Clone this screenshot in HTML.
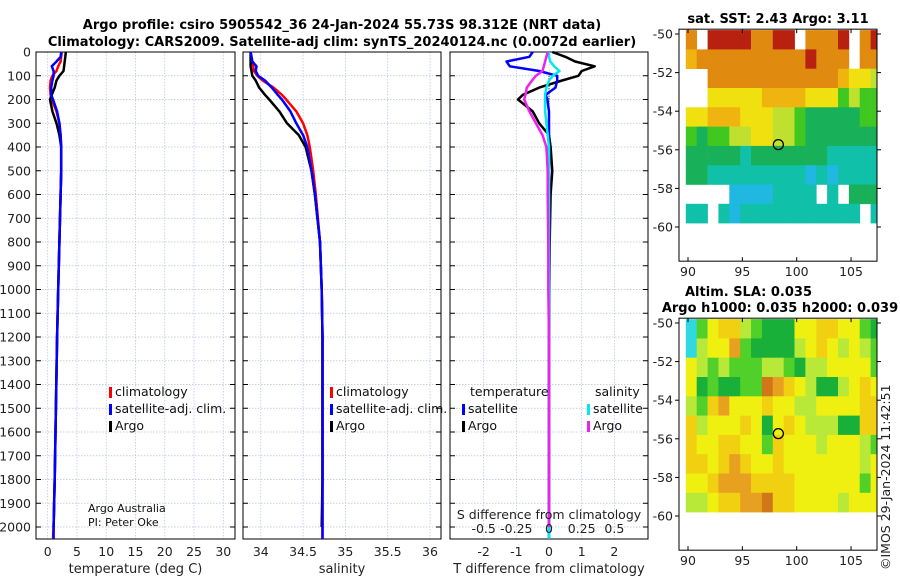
<!DOCTYPE html>
<html><head><meta charset="utf-8">
<style>
html,body{margin:0;padding:0;background:#fff;}
svg{display:block;font-family:"DejaVu Sans","Liberation Sans",sans-serif;}
</style></head>
<body>
<svg id="fig" width="900" height="580" viewBox="0 0 900 580" xmlns="http://www.w3.org/2000/svg">
<text x="342" y="29" text-anchor="middle" font-size="13" font-weight="bold">Argo profile: csiro 5905542_36 24-Jan-2024 55.73S 98.312E (NRT data)</text>
<text x="342" y="46" text-anchor="middle" font-size="13" font-weight="bold">Climatology: CARS2009. Satellite-adj clim: synTS_20240124.nc (0.0072d earlier)</text>
<g id="g"></g>
</svg>
<script>
// ---- data ----
const depths = [0,20,40,60,80,100,120,150,180,200,250,300,350,400,500,600,800,1000,1200,1500,1800,2000,2050];
const tempClim = [2.4,2.3,2.2,1.8,1.5,0.8,0.5,0.4,0.5,0.7,1.5,2.0,2.2,2.3,2.3,2.2,2.0,1.8,1.6,1.4,1.2,1.0,0.9];
const tempSat  = [2.3,2.2,1.5,0.7,1.0,1.0,0.8,0.6,0.6,0.9,1.6,2.0,2.2,2.3,2.3,2.2,2.0,1.8,1.6,1.4,1.2,1.0,1.0];
const tempArgo = [3.1,3.0,2.9,2.8,2.7,2.0,1.5,1.2,0.7,0.4,0.8,1.5,2.0,2.3,2.3,2.2,2.0,1.8,1.6,1.4,1.2,1.0,null];
const salClim = [33.88,33.89,33.9,33.91,33.92,33.96,34.02,34.15,34.25,34.3,34.42,34.5,34.55,34.58,34.62,34.65,34.7,34.72,34.73,34.73,34.73,34.73,34.73];
const salSat  = [33.88,33.89,33.9,33.95,33.94,33.97,34.05,34.13,34.2,34.25,34.35,34.42,34.5,34.55,34.6,34.64,34.7,34.72,34.73,34.73,34.73,34.73,34.73];
const salArgo = [33.88,33.88,33.88,33.88,33.89,33.9,33.94,33.98,34.05,34.1,34.22,34.31,34.45,34.53,34.6,34.64,34.7,34.72,34.73,34.73,34.73,34.72,null];
const tDiffSat  = [-0.5,-0.6,-1.3,-1.2,-0.3,0.25,0.25,0.2,-0.1,-0.05,0,0,0,0,0,0,0,0,0,0,0,0,0];
const tDiffArgo = [0.1,0.5,0.8,1.4,1.0,0.9,0.4,-0.3,-0.8,-0.95,-0.5,-0.3,0,0.05,0.1,0.05,0.02,0.01,0,0,0,0,null];
const sDiffSat  = [0,0,0.01,0.04,0.08,0.03,0.0,-0.02,-0.03,-0.03,-0.03,-0.02,-0.01,0,0,0,0,0,0,0,0,0,0];
const sDiffArgo = [-0.01,-0.02,-0.03,-0.04,-0.05,-0.1,-0.13,-0.17,-0.18,-0.19,-0.15,-0.1,-0.05,-0.02,-0.01,-0.01,-0.005,-0.005,0,0,0,0,null];
const depthTicks = [0,100,200,300,400,500,600,700,800,900,1000,1100,1200,1300,1400,1500,1600,1700,1800,1900,2000];
const tempTicks = [0,5,10,15,20,25,30];
const salTicks = [34,34.5,35,35.5,36];
const diffTicks = [-2,-1,0,1,2];
const sDiffTicks = [-0.5,-0.25,0,0.25,0.5];
const mapLonTicks = [90,95,100,105];
const mapLatTicks = [-50,-52,-54,-56,-58,-60];
// SST map grid: rows -50..-60 (1 deg), cols 90..107 (1 deg); code 0-9, '.' = no data
const sstRows = ["8.99998899.8889.89","788888888889888.88","..8888888888887665","..6666677776664544","667776665543333344","434455665543333333","333332333333322222","332222222221212222","....11112222.2.333","22.2122222222222.2"];
const slaRows = ["024553211144554421","034462111134543432","432322233213344442","412112276543113454","325644454433444455","534445414543331155","544554425444344432","554565445444444434","445666555544444424","334556675544443444"];
const sstPalette = ["#2080f0","#20b8e0","#10c0a8","#18b058","#40c820","#c0e030","#f0e010","#f0b410","#e08a10","#b82010"];
const slaPalette = ["#30d8e0","#18b038","#50d028","#b8e838","#f0f010","#f0d010","#e8a020","#d07818"];

const NS="http://www.w3.org/2000/svg";
const G=document.getElementById('g');
function el(tag,attrs,parent,txt){const e=document.createElementNS(NS,tag);for(const k in attrs)e.setAttribute(k,attrs[k]);if(txt!==undefined)e.textContent=txt;(parent||G).appendChild(e);return e;}

const Y0=52, PXD=23.75/100; // depth axis
function yD(d){return Y0+d*PXD;}
const panels=[
 {name:'temperature',x0:36,x1:235,lo:-2,hi:32,ticks:tempTicks,label:'temperature (deg C)'},
 {name:'salinity',x0:243,x1:441,lo:33.79,hi:36.13,ticks:salTicks,label:'salinity'},
 {name:'difference',x0:450,x1:648,lo:-3.03,hi:3.03,ticks:diffTicks,label:'T difference from climatology'}
];
const yBot=539;
panels.forEach((p,pi)=>{
  const sx=v=>p.x0+(v-p.lo)/(p.hi-p.lo)*(p.x1-p.x0);
  p.sx=sx;
  const grp=el('g',{});
  
  
  depthTicks.forEach(d=>{
    const l=el('line',{x1:p.x0,x2:p.x1,y1:yD(d),y2:yD(d),stroke:'#b8bfe0','stroke-width':0.7,'stroke-dasharray':'1.5,1.5'},grp);
    
    el('line',{x1:p.x0,x2:p.x0+5,y1:yD(d),y2:yD(d),stroke:'#000'},grp);
    el('line',{x1:p.x1-5,x2:p.x1,y1:yD(d),y2:yD(d),stroke:'#000'},grp);
  });
  p.ticks.forEach(v=>{
    const l=el('line',{x1:sx(v),x2:sx(v),y1:Y0,y2:yBot,stroke:'#b8bfe0','stroke-width':0.7,'stroke-dasharray':'1.5,1.5'},grp);
    
    const t=el('text',{x:sx(v),y:556,'text-anchor':'middle','font-size':12.5,fill:'#222'},grp,String(v));
    
  });
  const xl=el('text',{x:(p.x0+p.x1)/2,y:573,'text-anchor':'middle','font-size':13,fill:'#222'},grp,p.label);
  
  const fr=el('rect',{x:p.x0,y:Y0,width:p.x1-p.x0,height:yBot-Y0,fill:'none',stroke:'#000','stroke-width':1},grp);
  
});
depthTicks.forEach(d=>{
  const t=el('text',{x:31,y:yD(d)+4.5,'text-anchor':'end','font-size':12.5,fill:'#222'},G,String(d));
  
});
function line(xs,sx,color,name,w){
  let pts=[];
  xs.forEach((v,i)=>{if(v!==null)pts.push(sx(v).toFixed(1)+','+yD(depths[i]).toFixed(1));});
  const pl=el('polyline',{points:pts.join(' '),fill:'none',stroke:color,'stroke-width':w||2.5,'stroke-linejoin':'round'});
  
}
const P1=panels[0].sx,P2=panels[1].sx,P3=panels[2].sx;
line(tempClim,P1,'#f00','temp-climatology-line');
line(tempArgo,P1,'#000','temp-argo-line');
line(tempSat,P1,'#00f','temp-satellite-line');
line(salClim,P2,'#f00','sal-climatology-line');
line(salArgo,P2,'#000','sal-argo-line');
line(salSat,P2,'#00f','sal-satellite-line');
const zl=el('line',{x1:P3(0),x2:P3(0),y1:yD(100),y2:yD(400),stroke:'#000','stroke-width':1,'stroke-dasharray':'1,1.5'});

line(tDiffArgo,P3,'#000','t-diff-argo-line');
line(tDiffSat,P3,'#00f','t-diff-satellite-line');
const SX=v=>P3(v*4);
line(sDiffSat,SX,'#00e8f0','s-diff-satellite-line');
line(sDiffArgo,SX,'#f020f0','s-diff-argo-line');
const st=el('text',{x:549,y:519,'text-anchor':'middle','font-size':12.5,fill:'#222'},G,'S difference from climatology');

sDiffTicks.forEach(v=>{
  const t=el('text',{x:SX(v),y:533,'text-anchor':'middle','font-size':12.5,fill:'#222'},G,String(v));
  
});
function legend(x,y,color,label,name){
  const r=el('rect',{x:x,y:y-9,width:3,height:11,fill:color});
  
  const t=el('text',{x:x+6,y:y,'font-size':12.5,fill:'#111'},G,label);
  
}
legend(109,396,'#f00','climatology','legend-climatology');
legend(109,413,'#00f','satellite-adj. clim.','legend-satellite-adj');
legend(109,430,'#000','Argo','legend-argo');
legend(330,396,'#f00','climatology','legend-climatology-2');
legend(330,413,'#00f','satellite-adj. clim.','legend-satellite-adj-2');
legend(330,430,'#000','Argo','legend-argo-2');
const lt=el('text',{x:470,y:396,'font-size':12.5,fill:'#111'},G,'temperature');
const ls=el('text',{x:595,y:396,'font-size':12.5,fill:'#111'},G,'salinity');
legend(462,413,'#00f','satellite','legend-t-satellite');
legend(462,430,'#000','Argo','legend-t-argo');
legend(587,413,'#00e8f0','satellite','legend-s-satellite');
legend(587,430,'#f020f0','Argo','legend-s-argo');
const a1=el('text',{x:88,y:512,'font-size':11,fill:'#111'},G,'Argo Australia');
const a2=el('text',{x:88,y:526,'font-size':11,fill:'#111'},G,'PI: Peter Oke');

function drawMap(rows,pal,top,latTop,lbx,name){
  const bx0=679,bx1=877;
  const lonX=v=>688+(v-90)*10.87;
  const latY=v=>top+(latTop-v)*19.3;
  const grp=el('g',{});
  
  rows.forEach((r,ri)=>{
    for(let ci=0;ci<r.length;ci++){
      const c=r[ci]; if(c==='.')continue;
      const lon=89.8+ci, lat=-50+0.2-ri;
      const x=lonX(lon), y=latY(lat);
      const w=Math.min(lonX(lon+1),bx1)-x;
      const rc=el('rect',{x:x.toFixed(1),y:y.toFixed(1),width:(w+0.3).toFixed(1),height:19.6,fill:pal[+c]},grp);
      
    }
  });
  const by0=latY(-49.75), by1=by0+232;
  el('rect',{x:bx0,y:by0,width:bx1-bx0,height:by1-by0,fill:'none',stroke:'#000'},grp);
  mapLonTicks.forEach(v=>{
    el('line',{x1:lonX(v),x2:lonX(v),y1:by1,y2:by1-4,stroke:'#000'},grp);
    el('line',{x1:lonX(v),x2:lonX(v),y1:by0,y2:by0+4,stroke:'#000'},grp);
    const t=el('text',{x:lonX(v),y:by1+15,'text-anchor':'middle','font-size':12.5,fill:'#222'},grp,String(v));
    
  });
  mapLatTicks.forEach(v=>{
    el('line',{x1:bx0,x2:bx0-4,y1:latY(v),y2:latY(v),stroke:'#000'},grp);
    el('line',{x1:bx1,x2:bx1+4,y1:latY(v),y2:latY(v),stroke:'#000'},grp);
    if(lbx){const t=el('text',{x:673,y:latY(v)+4.5,'text-anchor':'end','font-size':12.5,fill:'#222'},grp,String(v));
    }
  });
  const m=el('circle',{cx:lonX(98.312),cy:latY(-55.73),r:5,fill:'none',stroke:'#000','stroke-width':1.3},grp);
  
}
drawMap(sstRows,sstPalette,34,-50,true,'sst-map');
drawMap(slaRows,slaPalette,323,-50,true,'sla-map');
const t1=el('text',{x:778,y:23,'text-anchor':'middle','font-size':13,'font-weight':'bold'},G,'sat. SST: 2.43 Argo: 3.11');
const t2=el('text',{x:685,y:296,'font-size':13,'font-weight':'bold'},G,'Altim. SLA: 0.035');
const t3=el('text',{x:780,y:312,'text-anchor':'middle','font-size':13,'font-weight':'bold'},G,'Argo h1000: 0.035 h2000: 0.039');
const t4=el('text',{x:0,y:0,'font-size':12.5,fill:'#222',transform:'translate(890,570) rotate(-90)'},G,'©IMOS 29-Jan-2024 11:42:51');
</script>
</body></html>
